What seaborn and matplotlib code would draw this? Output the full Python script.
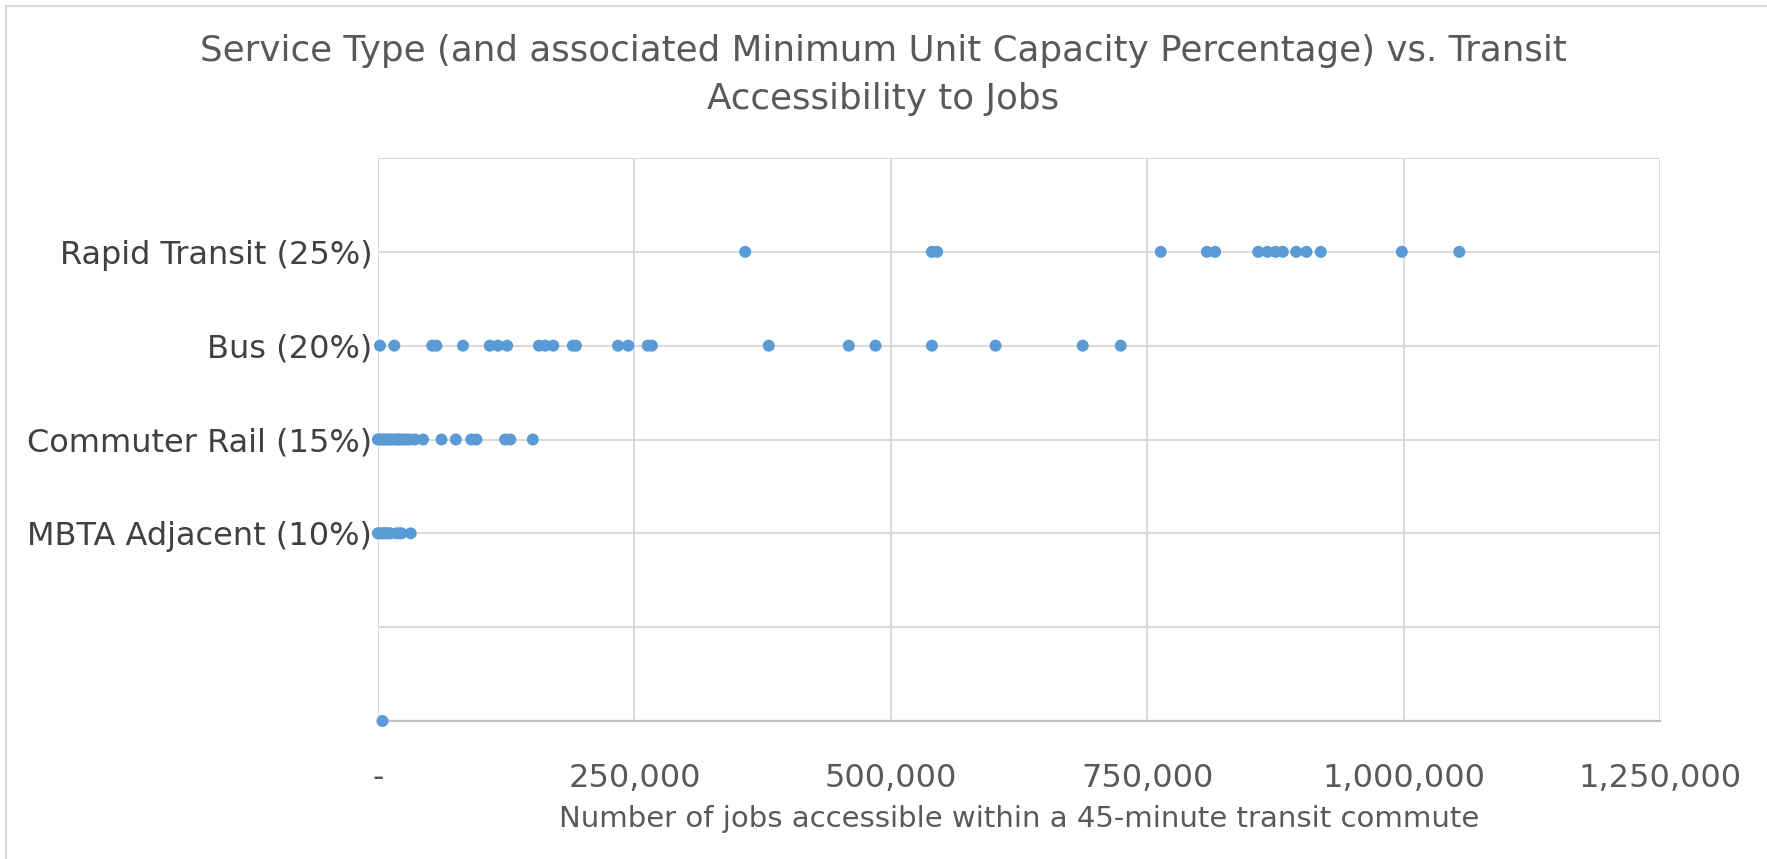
import matplotlib
matplotlib.use("Agg")
import matplotlib.pyplot as plt
from matplotlib.lines import Line2D
from matplotlib.ticker import FuncFormatter
import seaborn as sns
import pandas as pd

# Minimum unit capacity percentage for each MBTA service type
service_types = ["MBTA Adjacent (10%)", "Commuter Rail (15%)", "Bus (20%)", "Rapid Transit (25%)"]
capacity_pct = [10, 15, 20, 25]

# Jobs reachable within a 45-minute transit commute, per community
jobs_mbta_adjacent = [0, 2000, 4000, 6000, 8000, 10000, 12000, 18000, 21000, 23000, 32000]
jobs_commuter_rail = [0, 2000, 4000, 6000, 8000, 10000, 12000, 15000, 18000, 20000, 22000,
                      25000, 28000, 31000, 36000, 44000, 62000, 76000, 91000, 96000,
                      124000, 129000, 151000]
jobs_bus = [2000, 16000, 53000, 57000, 83000, 109000, 117000, 126000, 157000, 163000,
            171000, 190000, 193000, 234000, 244000, 263000, 267000, 381000, 459000,
            485000, 540000, 602000, 687000, 724000]
jobs_rapid_transit = [358000, 540000, 545000, 763000, 808000, 816000, 858000, 867000,
                      875000, 882000, 895000, 905000, 919000, 998000, 1054000]
# One community with no service-type percentage
jobs_unassigned = [4500]

x_ticks = [0, 250000, 500000, 750000, 1000000, 1250000]
y_ticks = [0, 5, 10, 15, 20, 25, 30]

frames = []
for name, pct, jobs in zip(service_types, capacity_pct,
                           [jobs_mbta_adjacent, jobs_commuter_rail, jobs_bus, jobs_rapid_transit]):
    frames.append(pd.DataFrame({"jobs": jobs, "pct": pct, "service": name}))
frames.append(pd.DataFrame({"jobs": jobs_unassigned, "pct": 0, "service": ""}))
df = pd.concat(frames, ignore_index=True)

sns.set_theme(style="white")
plt.rcParams["font.family"] = ["DejaVu Sans"]

W, H = 1767, 859
fig = plt.figure(figsize=(W / 100, H / 100), dpi=100)
ax = fig.add_axes([377.9 / W, 1 - 721 / H, (1660.4 - 377.9) / W, (721 - 158) / H])

blue = "#5B9BD5"
grid = "#D9D9D9"
sns.scatterplot(data=df, x="jobs", y="pct", ax=ax, color=blue, s=75,
                edgecolor="none", linewidth=0, legend=False, zorder=3, clip_on=False)

ax.set_xlim(0, 1250000)
ax.set_ylim(0, 30)
ax.set_xticks(x_ticks)
ax.set_yticks(y_ticks)
ax.xaxis.set_major_formatter(FuncFormatter(lambda v, p: "-" if v == 0 else f"{int(v):,}"))
pct_labels = dict(zip(capacity_pct, service_types))
ax.set_yticklabels([pct_labels.get(v, "") for v in y_ticks])

ax.grid(True, color=grid, linewidth=1.4, zorder=0)
for side in ["top", "right", "left"]:
    ax.spines[side].set_visible(False)
ax.spines["bottom"].set_color("#BFBFBF")
ax.spines["bottom"].set_linewidth(1.6)
ax.spines["bottom"].set_zorder(1)

ax.tick_params(axis="x", length=0, pad=30, labelsize=23, labelcolor="#595959")
ax.tick_params(axis="y", length=0, pad=4, labelsize=23, labelcolor="#404040")
ax.set_xlabel("Number of jobs accessible within a 45-minute transit commute",
              fontsize=21, color="#595959", labelpad=8)
ax.set_ylabel("")

fig.text(0.5, 1 - 51 / H, "Service Type (and associated Minimum Unit Capacity Percentage) vs. Transit",
         ha="center", va="center", fontsize=25.7, color="#595959")
fig.text(0.5, 1 - 99 / H, "Accessibility to Jobs",
         ha="center", va="center", fontsize=25.7, color="#595959")

# Chart-area frame along the top and left edges
fig.add_artist(Line2D([6 / W, 1], [1 - 6 / H, 1 - 6 / H], transform=fig.transFigure,
                      color="#D9D9D9", linewidth=1.5))
fig.add_artist(Line2D([6 / W, 6 / W], [0, 1 - 6 / H], transform=fig.transFigure,
                      color="#D9D9D9", linewidth=1.5))

fig.savefig("out.png", dpi=100, facecolor="white")
